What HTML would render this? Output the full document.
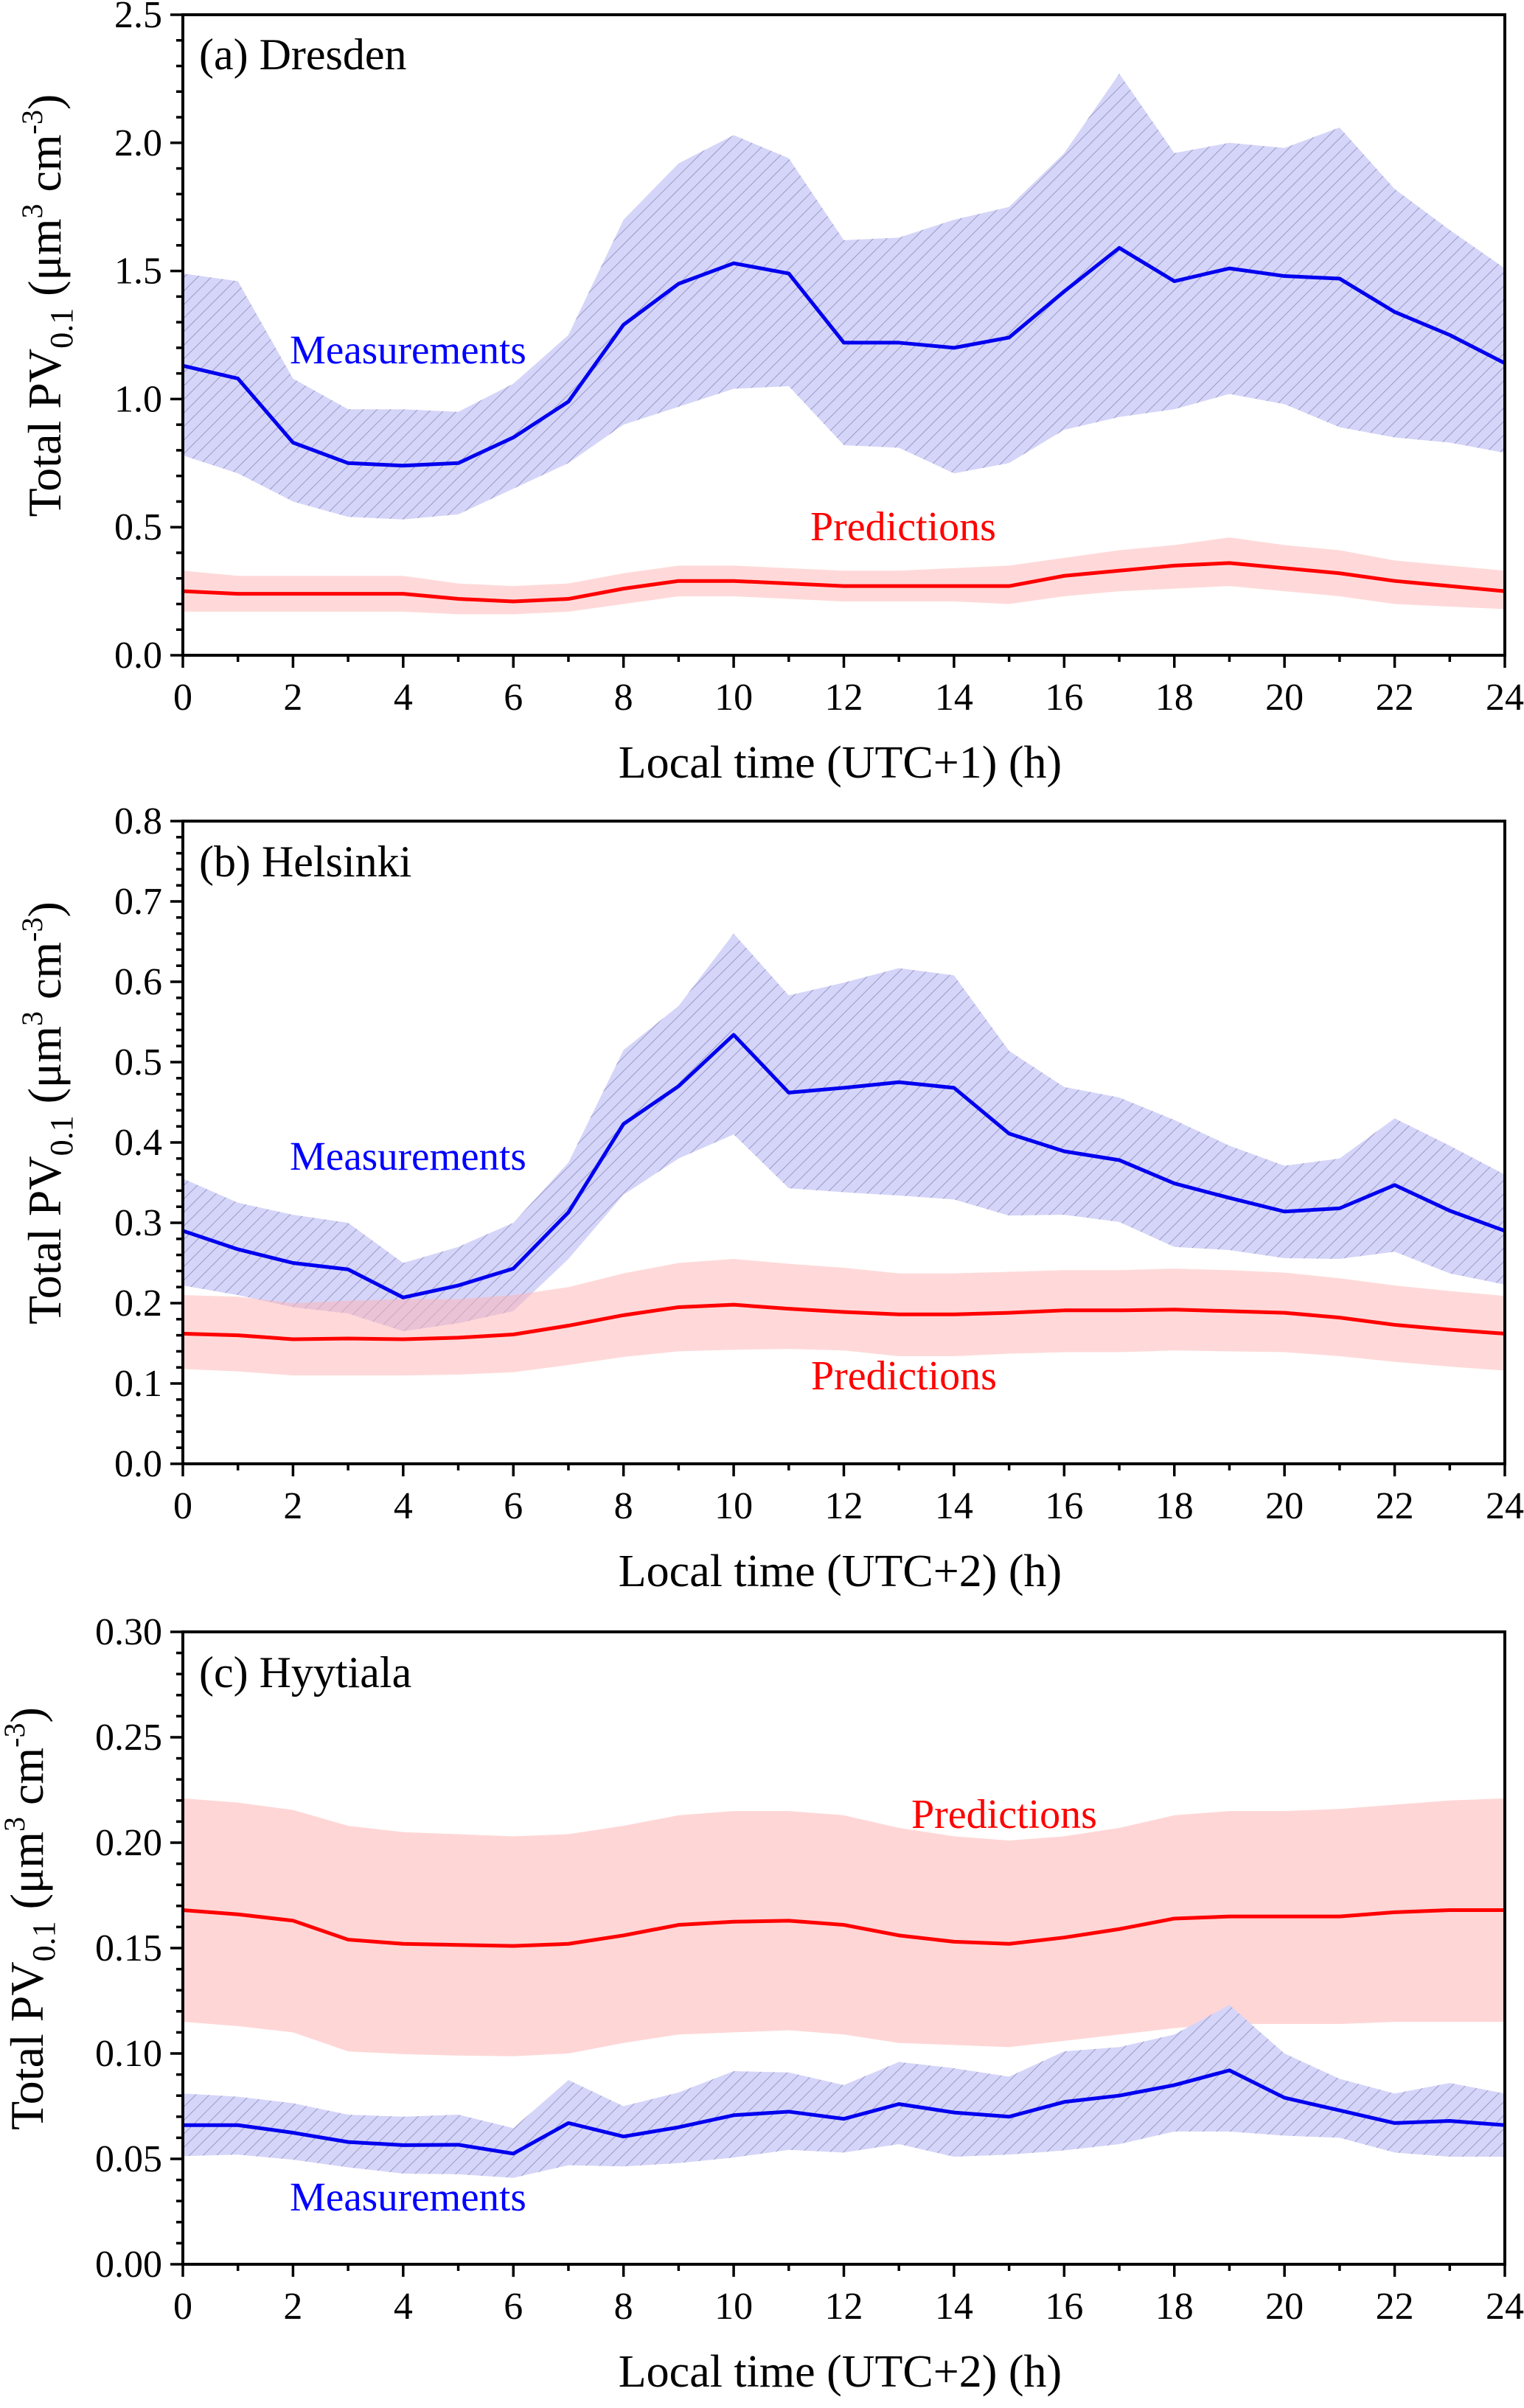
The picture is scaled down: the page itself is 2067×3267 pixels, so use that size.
<!DOCTYPE html>
<html><head><meta charset="utf-8"><style>
html,body{margin:0;padding:0;background:#fff}
svg{display:block}
</style></head><body>
<svg id="chart" xmlns="http://www.w3.org/2000/svg" width="2067" height="3267" viewBox="0 0 2067 3267" font-family="Liberation Serif, serif">
<defs>
<pattern id="hatch" patternUnits="userSpaceOnUse" width="13" height="13" patternTransform="rotate(45)">
<rect width="13" height="13" fill="#d5d5f9"/>
<line x1="0" y1="0" x2="0" y2="13" stroke="#9a9ac6" stroke-width="2"/>
</pattern>
</defs>
</svg>
<script>
const hours=[0,1,2,3,4,5,6,7,8,9,10,11,12,13,14,15,16,17,18,19,20,21,22,23,24];
// Panel a Dresden
const aMeas=[1.13,1.08,0.83,0.75,0.74,0.75,0.85,0.99,1.29,1.45,1.53,1.49,1.22,1.22,1.20,1.24,1.42,1.59,1.46,1.51,1.48,1.47,1.34,1.25,1.14];
const aMeasHi=[1.49,1.46,1.08,0.96,0.96,0.95,1.06,1.25,1.70,1.92,2.03,1.94,1.62,1.63,1.70,1.75,1.96,2.27,1.96,2.00,1.98,2.06,1.82,1.66,1.51];
const aMeasLo=[0.78,0.71,0.60,0.54,0.53,0.55,0.65,0.75,0.90,0.97,1.04,1.05,0.82,0.81,0.71,0.75,0.88,0.93,0.96,1.02,0.98,0.89,0.85,0.83,0.79];
const aPred=[0.25,0.24,0.24,0.24,0.24,0.22,0.21,0.22,0.26,0.29,0.29,0.28,0.27,0.27,0.27,0.27,0.31,0.33,0.35,0.36,0.34,0.32,0.29,0.27,0.25];
const aPredHi=[0.33,0.31,0.31,0.31,0.31,0.28,0.27,0.28,0.32,0.35,0.35,0.34,0.33,0.33,0.34,0.35,0.38,0.41,0.43,0.46,0.43,0.41,0.37,0.35,0.33];
const aPredLo=[0.17,0.17,0.17,0.17,0.17,0.16,0.16,0.17,0.20,0.23,0.23,0.22,0.21,0.21,0.21,0.20,0.23,0.25,0.26,0.27,0.25,0.23,0.20,0.19,0.18];
const aTicks=["0.0","0.5","1.0","1.5","2.0","2.5"];
// Panel b Helsinki
const bMeas=[0.29,0.267,0.25,0.242,0.207,0.222,0.243,0.313,0.423,0.47,0.534,0.462,0.468,0.475,0.468,0.411,0.389,0.378,0.349,0.331,0.314,0.318,0.347,0.315,0.29];
const bMeasHi=[0.355,0.325,0.31,0.30,0.25,0.27,0.30,0.375,0.515,0.57,0.66,0.583,0.599,0.617,0.608,0.514,0.469,0.456,0.428,0.396,0.371,0.38,0.43,0.396,0.36];
const bMeasLo=[0.222,0.21,0.195,0.187,0.165,0.175,0.19,0.255,0.335,0.38,0.41,0.343,0.338,0.334,0.329,0.309,0.31,0.301,0.27,0.266,0.256,0.255,0.264,0.237,0.223];
const bPred=[0.162,0.16,0.155,0.156,0.155,0.157,0.161,0.172,0.185,0.195,0.198,0.193,0.189,0.186,0.186,0.188,0.191,0.191,0.192,0.19,0.188,0.182,0.173,0.167,0.162];
const bPredHi=[0.21,0.208,0.20,0.203,0.205,0.205,0.21,0.22,0.237,0.25,0.255,0.249,0.244,0.237,0.237,0.239,0.241,0.241,0.243,0.241,0.238,0.231,0.222,0.215,0.209];
const bPredLo=[0.118,0.115,0.11,0.11,0.11,0.111,0.114,0.123,0.133,0.14,0.142,0.143,0.141,0.134,0.134,0.137,0.139,0.139,0.141,0.14,0.139,0.134,0.127,0.121,0.116];
const bTicks=["0.0","0.1","0.2","0.3","0.4","0.5","0.6","0.7","0.8"];
// Panel c Hyytiala
const cMeas=[0.066,0.066,0.0624,0.058,0.0565,0.0567,0.0525,0.067,0.0606,0.065,0.0707,0.0724,0.069,0.076,0.072,0.070,0.077,0.080,0.085,0.092,0.079,0.073,0.067,0.068,0.066];
const cMeasHi=[0.081,0.0795,0.0764,0.071,0.070,0.071,0.0646,0.0874,0.075,0.0815,0.0916,0.091,0.085,0.096,0.093,0.089,0.101,0.103,0.109,0.123,0.100,0.088,0.081,0.086,0.081];
const cMeasLo=[0.0513,0.052,0.0496,0.046,0.043,0.0427,0.041,0.047,0.0464,0.048,0.0506,0.0543,0.053,0.057,0.051,0.052,0.054,0.057,0.063,0.063,0.061,0.060,0.053,0.051,0.051];
const cPred=[0.168,0.166,0.163,0.154,0.152,0.1515,0.151,0.152,0.156,0.161,0.1625,0.163,0.161,0.156,0.153,0.152,0.155,0.159,0.164,0.165,0.165,0.165,0.167,0.168,0.168];
const cPredHi=[0.221,0.219,0.2155,0.208,0.205,0.204,0.203,0.204,0.208,0.213,0.215,0.215,0.213,0.207,0.203,0.201,0.203,0.207,0.213,0.215,0.215,0.216,0.218,0.220,0.221];
const cPredLo=[0.115,0.113,0.110,0.101,0.0997,0.099,0.0987,0.100,0.105,0.109,0.110,0.111,0.109,0.105,0.104,0.103,0.106,0.109,0.112,0.114,0.114,0.114,0.115,0.115,0.115];
const cTicks=["0.00","0.05","0.10","0.15","0.20","0.25","0.30"];
const xTicks=["0","2","4","6","8","10","12","14","16","18","20","22","24"];

const NS="http://www.w3.org/2000/svg";
const FONT='"Liberation Serif", serif';
const svg=document.getElementById('chart');
function mk(tag,attrs,parent){const e=document.createElementNS(NS,tag);for(const k in attrs)e.setAttribute(k,attrs[k]);if(tag==='text')e.style.fontFamily=FONT;(parent||svg).appendChild(e);return e;}

const X0=248,X1=2041;
const panels=[
 {key:'a',top:20,bot:889,max:2.5,minor:0.1,ticks:aTicks,meas:aMeas,mHi:aMeasHi,mLo:aMeasLo,pred:aPred,pHi:aPredHi,pLo:aPredLo,title:'(a) Dresden',titleY:94,mx:393,my:493,px:1099,py:733,xt:'Local time (UTC+1) (h)',ylx:60},
 {key:'b',top:1114,bot:1986,max:0.8,minor:0.02,ticks:bTicks,meas:bMeas,mHi:bMeasHi,mLo:bMeasLo,pred:bPred,pHi:bPredHi,pLo:bPredLo,title:'(b) Helsinki',titleY:1189,mx:393,my:1587,px:1100,py:1885,xt:'Local time (UTC+2) (h)',ylx:60},
 {key:'c',top:2214,bot:3072,max:0.30,minor:0.01,ticks:cTicks,meas:cMeas,mHi:cMeasHi,mLo:cMeasLo,pred:cPred,pHi:cPredHi,pLo:cPredLo,title:'(c) Hyytiala',titleY:2289,mx:393,my:2999,px:1236,py:2480,xt:'Local time (UTC+2) (h)',ylx:36}
];

panels.forEach(p=>{
 const g=mk('g',{});
 
 
 const xs=h=>X0+(X1-X0)*h/24;
 const ys=v=>p.bot-(p.bot-p.top)*v/p.max;
 function band(hi,lo,fill,name){
  let d='M'+hours.map((h,i)=>xs(h)+','+ys(hi[i])).join(' L');
  for(let i=hours.length-1;i>=0;i--)d+=' L'+xs(hours[i])+','+ys(lo[i]);
  const e=mk('path',{d:d+' Z',fill:fill,stroke:'none'},g);
  
  
 }
 function line(vals,color,name){
  const e=mk('polyline',{points:hours.map((h,i)=>xs(h)+','+ys(vals[i])).join(' '),fill:'none',stroke:color,'stroke-width':5,'stroke-linejoin':'round'},g);
  
  
 }
 if(p.key==='c'){band(p.pHi,p.pLo,'#ffd6d6','prediction-range');band(p.mHi,p.mLo,'url(#hatch)','measurement-range');}
 else{band(p.mHi,p.mLo,'url(#hatch)','measurement-range');band(p.pHi,p.pLo,'rgba(255,180,180,0.5)','prediction-range');}
 line(p.pred,'#ff0000','prediction-line');
 line(p.meas,'#0000ee','measurement-line');
 const fr=mk('rect',{x:X0,y:p.top,width:X1-X0,height:p.bot-p.top,fill:'none',stroke:'#000','stroke-width':4},g);
 
 
 for(let h=0;h<=24;h++){
  const major=h%2===0;
  mk('line',{x1:xs(h),x2:xs(h),y1:p.bot,y2:p.bot+(major?17:9),stroke:'#000','stroke-width':3.5},g);
 }
 xTicks.forEach(t=>{
  const e=mk('text',{x:xs(+t),y:p.bot+74,'font-size':52,'text-anchor':'middle'},g);
  e.textContent=t;
  
  
 });
 const nMinor=Math.round(p.max/p.minor);
 const per=Math.round(nMinor/(p.ticks.length-1));
 for(let i=0;i<=nMinor;i++){
  const major=i%per===0;
  mk('line',{x1:X0,x2:X0-(major?17:9),y1:ys(i*p.minor),y2:ys(i*p.minor),stroke:'#000','stroke-width':3.5},g);
 }
 p.ticks.forEach(t=>{
  const e=mk('text',{x:220,y:ys(+t)+17,'font-size':52,'text-anchor':'end'},g);
  e.textContent=t;
  
  
 });
 const tt=mk('text',{x:270,y:p.titleY,'font-size':60},g);
 tt.textContent=p.title;
 
 
 const ml=mk('text',{x:p.mx,y:p.my,'font-size':55,fill:'#0000ff'},g);
 ml.textContent='Measurements';
 
 
 const pl=mk('text',{x:p.px,y:p.py,'font-size':56,fill:'#ff0000'},g);
 pl.textContent='Predictions';
 
 
 const xt=mk('text',{x:(X0+X1)/2-5,y:p.bot+166,'font-size':62,'text-anchor':'middle'},g);
 xt.textContent=p.xt;
 
 
 const cy=(p.top+p.bot)/2-40;
 const yt=mk('text',{x:0,y:0,'font-size':64,'text-anchor':'middle',transform:'translate('+(p.ylx+22)+','+cy+') rotate(-90)'},g);
 yt.innerHTML='Total PV<tspan font-size="44" dy="16">0.1</tspan><tspan dy="-16"> (μm</tspan><tspan font-size="40" dy="-25">3</tspan><tspan dy="25"> cm</tspan><tspan font-size="40" dy="-25">-3</tspan><tspan dy="25">)</tspan>';
 
 
});
</script>
</body></html>
